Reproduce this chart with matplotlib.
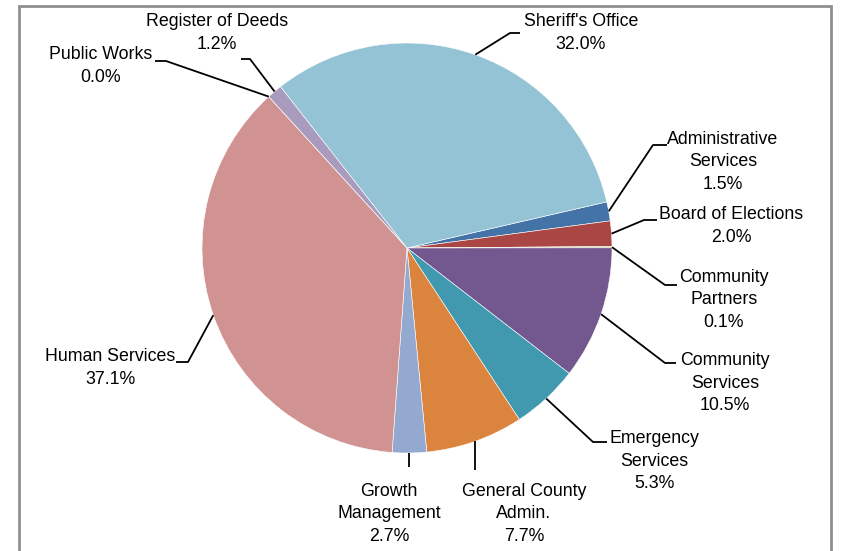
import numpy as np
import matplotlib
matplotlib.use("Agg")
import matplotlib.pyplot as plt
from matplotlib.patches import Rectangle

departments = [
    "Administrative\nServices", "Board of Elections", "Community\nPartners",
    "Community\nServices", "Emergency\nServices", "General County\nAdmin.",
    "Growth\nManagement", "Human Services", "Public Works",
    "Register of Deeds", "Sheriff's Office",
]
shares = [1.5, 2.0, 0.1, 10.5, 5.3, 7.7, 2.7, 37.1, 0.0, 1.2, 32.0]
colors = [
    "#4473A8", "#AA4744", "#9BBB59", "#72588F", "#4199B0", "#DB843D",
    "#93A9D0", "#D19392", "#8AA84B", "#A99BBD", "#93C3D4",
]

# label layout in pixel coordinates (y measured from top)
label_pos = [
    (723, 162), (731, 226), (724, 300), (725, 383), (654, 461), (524, 514),
    (389, 514), (110, 368), (101, 66), (217, 33), (581, 33),
]
# leader line: start near the label, then an elbow (None = straight down to the wedge)
leader = [
    ((667, 145), (653, 145)), ((657, 220), (644, 220)), ((677, 285), (665, 285)),
    ((676, 363), (665, 363)), ((607, 442), (593, 442)), ((None, 470), None),
    ((None, 467), None), ((176, 362), (188, 362)), ((155, 61), (166, 61)),
    ((241, 59), (250, 59)), ((520, 33), (510, 33)),
]

W, H = 844, 551
cx, cy, R = 407, 248, 205

fig = plt.figure(figsize=(W / 100, H / 100), dpi=100)
ax = fig.add_axes([0, 0, 1, 1])
wedges, _ = ax.pie(
    shares, colors=colors, startangle=13, counterclock=False,
    center=(cx, H - cy), radius=R, normalize=True,
    wedgeprops=dict(edgecolor="white", linewidth=0.4),
)
ax.set_xlim(0, W)
ax.set_ylim(0, H)
ax.set_aspect("equal")
ax.axis("off")

fig.patches.append(Rectangle((19, -10), 812, H - 6 + 10, transform=None,
                             fill=False, edgecolor="#8f8f8f", linewidth=2))

fonts = ["Liberation Sans", "DejaVu Sans"]
for wedge, name, share, (tx, ty), (p0, p1) in zip(wedges, departments, shares, label_pos, leader):
    mid = np.deg2rad((wedge.theta1 + wedge.theta2) / 2)
    axx = cx + R * np.cos(mid)
    axy = cy - R * np.sin(mid)
    if p1 is None:
        xs = [axx, axx]
        ys = [p0[1], axy]
    else:
        xs = [p0[0], p1[0], axx]
        ys = [p0[1], p1[1], axy]
    ax.plot(xs, [H - y for y in ys], color="black", lw=1.3, solid_capstyle="butt")
    ax.text(tx, H - ty, f"{name}\n{share:.1f}%", ha="center", va="center",
            multialignment="center", fontsize=12.8, family=fonts, linespacing=1.42)

fig.savefig("out.png", dpi=100)
